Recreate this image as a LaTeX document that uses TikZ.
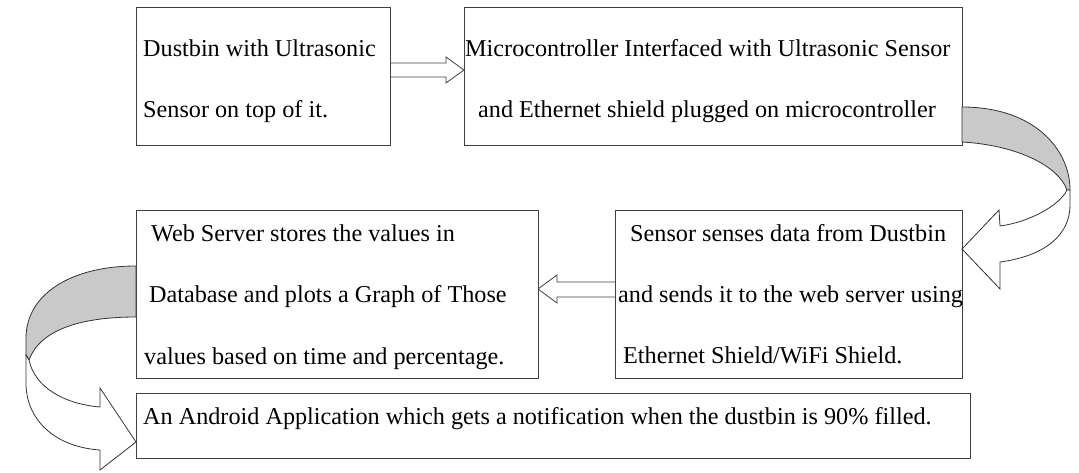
\documentclass[tikz,border=0pt]{standalone}
\usepackage{fontspec}
\setmainfont{Liberation Serif}
\newfontfamily\timesfont{Liberation Serif}
\begin{document}
\begin{tikzpicture}[x=1pt,y=-1pt,
  box/.style={draw=black!75,line width=1pt,fill=white,rectangle,anchor=north west,inner sep=0pt,outer sep=0pt},
  txt/.style={anchor=base west,inner sep=0pt,font=\timesfont\fontsize{24.2}{24}\selectfont,text=black},
  blockarrow/.style={draw=black!75,line width=0.8pt,fill=white,line join=miter},
  ribbonback/.style={draw=black!80,line width=0.8pt,fill=gray!42},
  ribbonfront/.style={draw=black!80,line width=0.8pt,fill=white}]
\useasboundingbox (0,0) rectangle (1079,473);
% straight block arrows
\draw[blockarrow] (390,63) -- (446,63) -- (446,57) -- (464,70) -- (446,83) -- (446,77) -- (390,77);
\draw[blockarrow] (615,282) -- (557,282) -- (557,275) -- (538,289) -- (557,303) -- (557,297) -- (615,297);
% boxes
\node[box,minimum width=254pt,minimum height=138pt] (b1) at (136,8) {};
\node[box,minimum width=498pt,minimum height=138pt] (b2) at (464,8) {};
\node[box,minimum width=402pt,minimum height=167pt] (b3) at (136,211) {};
\node[box,minimum width=347pt,minimum height=167pt] (b4) at (615,211) {};
\node[box,minimum width=834pt,minimum height=65pt] (b5) at (136,393) {};
% right curved arrow
\draw[ribbonback] (962,107) .. controls (1035,107) and (1070,150) .. (1070,190) -- (1067,190)
  .. controls (1058,165) and (1015,145) .. (962,142) -- cycle;
\draw[ribbonfront] (1067,190) .. controls (1060,205) and (1030,222) .. (1000,226) -- (999,210) -- (962,249)
  -- (1000,289) -- (1000,262) .. controls (1045,256) and (1070,235) .. (1070,205) -- (1070,190) -- cycle;
% left curved arrow
\draw[ribbonback] (136,266) .. controls (70,266) and (26,295) .. (26,338) -- (26,355) -- (29,360)
  .. controls (40,330) and (80,317) .. (136,317) -- cycle;
\draw[ribbonfront] (29,360) .. controls (35,388) and (65,404) .. (100,407) -- (100,388) -- (136,442)
  -- (100,470) -- (100,450) .. controls (55,447) and (26,420) .. (26,383) -- (26,355) -- cycle;
% texts
\node[txt] (t11) at (143,57) {Dustbin with Ultrasonic};
\node[txt] (t12) at (143,118) {Sensor on top of it.};
\node[txt] (t21) at (465,57) {Microcontroller Interfaced with Ultrasonic Sensor};
\node[txt] (t22) at (478,118) {and Ethernet shield plugged on microcontroller};
\node[txt] (t31) at (151,241) {Web Server stores the values in};
\node[txt] (t32) at (149,302) {Database and plots a Graph of Those};
\node[txt] (t33) at (144,364) {values based on time and percentage.};
\node[txt] (t41) at (630,241) {Sensor senses data from Dustbin};
\node[txt] (t42) at (618,302) {and sends it to the web server using};
\node[txt] (t43) at (623,363) {Ethernet Shield/WiFi Shield.};
\node[txt] (t51) at (143,424) {An Android Application which gets a notification when the dustbin is 90\% filled.};
\end{tikzpicture}
\end{document}
